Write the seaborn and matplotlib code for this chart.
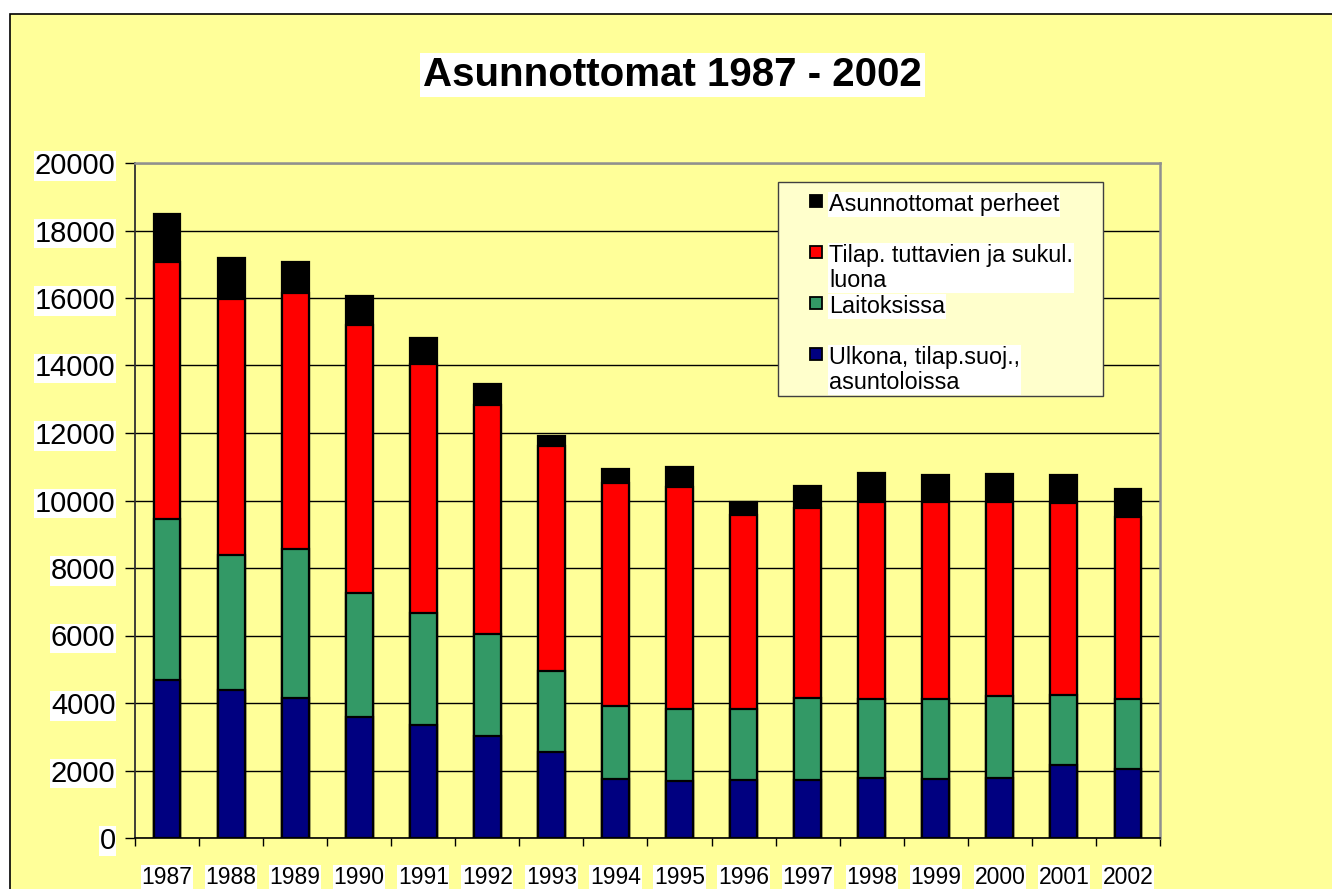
import matplotlib
matplotlib.use("Agg")
import matplotlib.pyplot as plt
from matplotlib.patches import Rectangle
import numpy as np
import pandas as pd
import seaborn as sns

years = [str(y) for y in range(1987, 2003)]
ulkona = [4680, 4390, 4160, 3590, 3350, 3020, 2550, 1740, 1690, 1710, 1720, 1770, 1740, 1790, 2160, 2040]
laitoksissa = [4760, 3990, 4390, 3680, 3330, 3010, 2400, 2170, 2120, 2100, 2440, 2340, 2380, 2420, 2070, 2070]
tuttavat = [7630, 7580, 7590, 7930, 7360, 6810, 6670, 6600, 6580, 5760, 5610, 5840, 5830, 5750, 5690, 5400]
perheet = [1430, 1240, 930, 860, 770, 610, 300, 430, 590, 390, 650, 860, 820, 830, 840, 830]

labels = ["Asunnottomat perheet", "Tilap. tuttavien ja sukul.\nluona",
          "Laitoksissa", "Ulkona, tilap.suoj.,\nasuntoloissa"]
colors = ["#000000", "#FF0000", "#339966", "#000080"]

df = pd.DataFrame({"year": years, "ulkona": ulkona, "laitoksissa": laitoksissa,
                   "tuttavat": tuttavat, "perheet": perheet})
# cumulative tops, drawn from the tallest down so the stack shows
df["c1"] = df["ulkona"]
df["c2"] = df["c1"] + df["laitoksissa"]
df["c3"] = df["c2"] + df["tuttavat"]
df["c4"] = df["c3"] + df["perheet"]

sns.set_style("white")
plt.rcParams["font.family"] = ["Liberation Sans", "DejaVu Sans"]
plt.rcParams["text.color"] = "black"
plt.rcParams["xtick.color"] = "black"
plt.rcParams["ytick.color"] = "black"

W, H = 1332, 889
yellow = "#FFFF99"
fig = plt.figure(figsize=(W / 100, H / 100), dpi=100)
fig.patch.set_facecolor("white")
fig.patches.append(Rectangle((10 / W, -0.1), 1.1, 1 - 14 / H + 0.1, transform=fig.transFigure,
                             facecolor=yellow, edgecolor="black", linewidth=1.2, zorder=-5))

ax = fig.add_axes([135 / W, 1 - 838 / H, (1160 - 135) / W, (838 - 163) / H])
ax.set_facecolor(yellow)
ax.set_zorder(2)

for col, c in zip(["c4", "c3", "c2", "c1"], colors):
    sns.barplot(data=df, x="year", y=col, color=c, saturation=1, width=0.42,
                edgecolor="black", linewidth=1.6, ax=ax, zorder=3)

ax.set_ylim(0, 20000)
ax.set_xlim(-0.5, 15.5)
ax.set_yticks(np.arange(0, 20001, 2000))
ax.yaxis.grid(True, color="black", linewidth=1.0, zorder=0)
ax.set_axisbelow(True)
ax.set_xlabel("")
ax.set_ylabel("")

for s in ["top", "right"]:
    ax.spines[s].set_color("#909090")
    ax.spines[s].set_linewidth(1.8)
ax.spines["left"].set_color("#303030")
ax.spines["left"].set_linewidth(1.3)
ax.spines["bottom"].set_color("black")
ax.spines["bottom"].set_linewidth(1.2)

ax.tick_params(axis="y", which="major", length=7, width=1, color="black", pad=7, labelsize=21, left=True)
ax.tick_params(axis="x", which="major", length=0, pad=20, labelsize=16.5)
ax.set_xticks(np.arange(-0.5, 16, 1), minor=True)
ax.tick_params(axis="x", which="minor", length=6, width=1, color="black", bottom=True)

for t in ax.get_xticklabels() + ax.get_yticklabels():
    t.set_bbox(dict(facecolor="white", edgecolor="none", pad=0.5))

fig.text(0.505, 1 - 75 / H, "Asunnottomat 1987 - 2002", ha="center", va="center",
         fontsize=29, fontweight="bold", color="black",
         bbox=dict(facecolor="white", edgecolor="none", pad=2))

# legend box in the Excel style: fixed slots, wrapped labels spill downward
fig.patches.append(Rectangle((778 / W, 1 - 396 / H), (1103 - 778) / W, (396 - 182) / H,
                             transform=fig.transFigure, facecolor="#FFFFCC", edgecolor="#404040",
                             linewidth=1.0, zorder=5))
for i, (lab, c) in enumerate(zip(labels, colors)):
    yc = 202 + 51 * i
    fig.patches.append(Rectangle((810 / W, 1 - (yc + 5) / H), 12 / W, 12 / H,
                                 transform=fig.transFigure, facecolor=c, edgecolor="black",
                                 linewidth=1.3, zorder=6))
    fig.text(829 / W, 1 - (yc - 9) / H, lab, ha="left", va="top", fontsize=16.8,
             linespacing=1.12, zorder=7,
             bbox=dict(facecolor="white", edgecolor="none", pad=0.5))

fig.savefig("out.png", dpi=100)
